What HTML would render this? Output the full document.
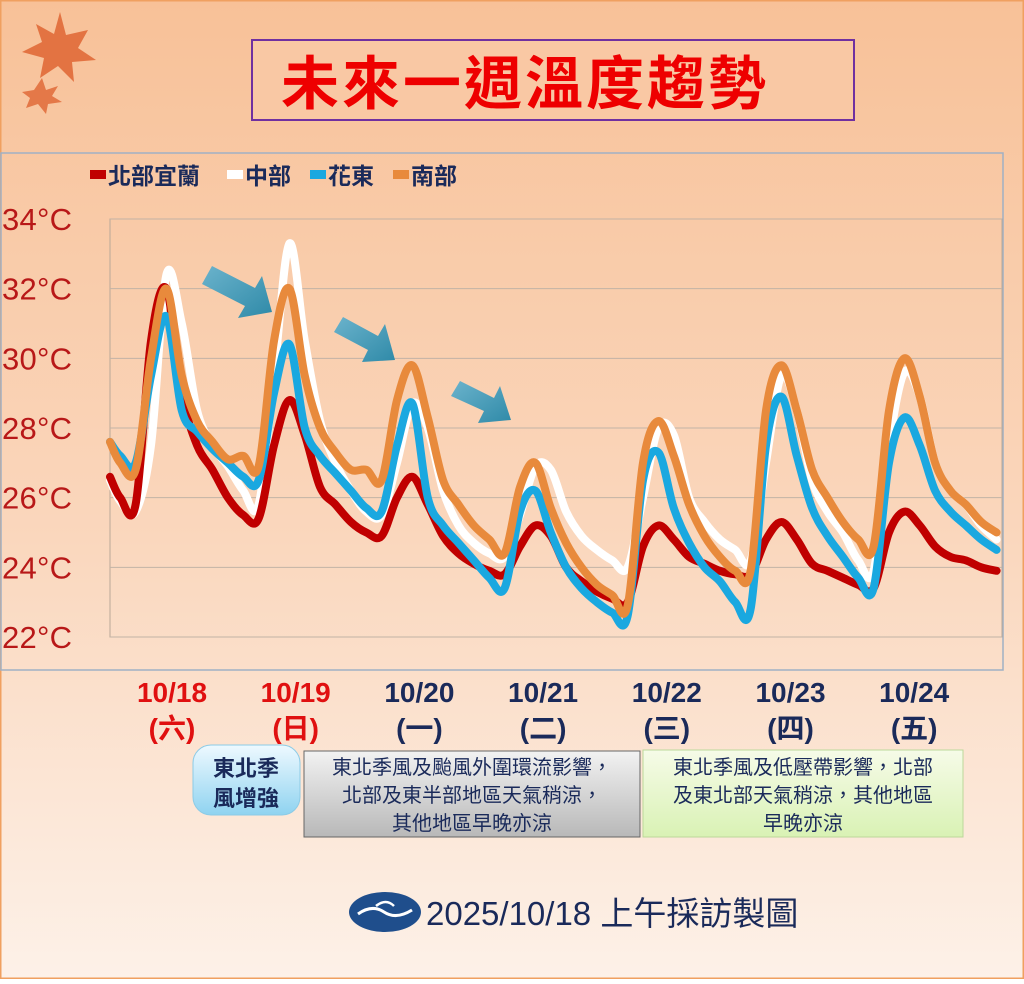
<!DOCTYPE html>
<html><head><meta charset="utf-8"><style>
html,body{margin:0;padding:0}
body{width:1024px;height:979px;overflow:hidden;font-family:"Liberation Sans","Noto Sans CJK TC",sans-serif}
</style></head><body>
<svg id="chart" width="1024" height="979" xmlns="http://www.w3.org/2000/svg" font-family="Liberation Sans, Noto Sans CJK TC, sans-serif">
<defs>
<linearGradient id="bg" x1="0" y1="0" x2="0" y2="1"><stop offset="0" stop-color="#f8c198"/><stop offset="0.55" stop-color="#fad7bd"/><stop offset="1" stop-color="#fdf1e8"/></linearGradient>
<linearGradient id="arr" x1="0" y1="0" x2="1" y2="1"><stop offset="0" stop-color="#6bb3cc"/><stop offset="1" stop-color="#2f8aa8"/></linearGradient>
<linearGradient id="grey" x1="0" y1="0" x2="0" y2="1"><stop offset="0" stop-color="#f2f2f2"/><stop offset="1" stop-color="#b8b8b8"/></linearGradient>
<linearGradient id="green" x1="0" y1="0" x2="0" y2="1"><stop offset="0" stop-color="#f6fbe8"/><stop offset="1" stop-color="#d9f2b4"/></linearGradient>
<linearGradient id="blueb" x1="0" y1="0" x2="0" y2="1"><stop offset="0" stop-color="#eef9ff"/><stop offset="1" stop-color="#8fd3f0"/></linearGradient>
</defs>
<rect x="0" y="0" width="1024" height="979" fill="url(#bg)" stroke="#f0a060" stroke-width="3"/>
<g>
<path d="M60 12 L66 35 L88 30 L78 48 L96 60 L72 62 L74 82 L58 66 L40 78 L44 58 L22 52 L42 42 L36 24 L54 34 Z" fill="#e06a38" opacity="0.9"/>
<path d="M42 78 L46 90 L58 86 L52 96 L62 102 L48 104 L46 114 L38 104 L26 108 L30 98 L22 92 L34 90 Z" fill="#e06a38" opacity="0.85"/>
</g>
<rect x="252" y="40" width="602" height="80" fill="#f9c8a4" stroke="#7030a0" stroke-width="2"/>
<text x="525" y="104" text-anchor="middle" font-size="58" fill="#ee0000" font-weight="bold" letter-spacing="3">未來一週溫度趨勢</text>
<rect x="1" y="153" width="1002" height="517" fill="none" stroke="#9fb0c4" stroke-width="1.5"/>
<rect x="110" y="219" width="892" height="418" fill="none" stroke="#b9a898" stroke-width="1"/>
<g id="grid"></g>
<g id="ylabels"></g>
<g id="legend"></g>
<g id="lines"></g>
<g>
<path d="M212 266 L255 288 L262 276 L272 312 L238 318 L245 306 L202 284 Z" fill="url(#arr)"/>
<path d="M343 317 L378 336 L385 324 L395 360 L362 362 L368 350 L334 332 Z" fill="url(#arr)"/>
<path d="M460 381 L494 398 L500 386 L511 420 L478 423 L484 411 L451 396 Z" fill="url(#arr)"/>
</g>
<g id="xlabels"></g>
<rect x="193" y="745" width="107" height="70" rx="18" fill="url(#blueb)" stroke="#8ccbe6"/>
<text x="246" y="776" text-anchor="middle" font-size="22" fill="#1a2a5a" font-weight="bold">東北季</text>
<text x="246" y="806" text-anchor="middle" font-size="22" fill="#1a2a5a" font-weight="bold">風增強</text>
<rect x="304" y="751" width="336" height="86" fill="url(#grey)" stroke="#666"/>
<g font-size="20" fill="#1a2a5a" text-anchor="middle">
<text x="472" y="774">東北季風及颱風外圍環流影響，</text>
<text x="472" y="802">北部及東半部地區天氣稍涼，</text>
<text x="472" y="830">其他地區早晚亦涼</text>
</g>
<rect x="643" y="750" width="320" height="87" fill="url(#green)" stroke="#bcd89a"/>
<g font-size="20" fill="#1a2a5a" text-anchor="middle">
<text x="803" y="774">東北季風及低壓帶影響，北部</text>
<text x="803" y="802">及東北部天氣稍涼，其他地區</text>
<text x="803" y="830">早晚亦涼</text>
</g>
<g>
<ellipse cx="385" cy="912" rx="36" ry="20" fill="#1f4e8c"/>
<path d="M358 914 Q372 904 384 912 Q396 920 412 910" stroke="#fff" stroke-width="3" fill="none"/>
<path d="M376 906 Q386 898 394 906" stroke="#fff" stroke-width="2.5" fill="none"/>
</g>
<text x="426" y="925" font-size="33" fill="#1a2a5a">2025/10/18 上午採訪製圖</text>
</svg>
<script>
const tempTicks = [22, 24, 26, 28, 30, 32, 34];
const tickLabels = ["22°C","24°C","26°C","28°C","30°C","32°C","34°C"];
const dateLabels = ["10/18","10/19","10/20","10/21","10/22","10/23","10/24"];
const weekdayLabels = ["(六)","(日)","(一)","(二)","(三)","(四)","(五)"];
const seriesNames = ["北部宜蘭","中部","花東","南部"];
const hours = [0,2,5,8,11,14,17,20,23,26,29,32,35,38,41,44,47,50,53,56,59,62,65,68,71,74,77,80,83,86,89,92,95,98,101,104,107,110,113,116,119,122,125,128,131,134,137,140,143,146,149,152,155,158,161,164,167,170,173];
const north = [26.6,26.0,25.8,30.5,32.0,29.0,27.5,26.8,26.0,25.5,25.4,27.5,28.8,27.8,26.3,25.8,25.3,25.0,24.9,26.0,26.6,25.8,24.9,24.4,24.1,23.9,23.8,24.6,25.2,24.9,24.0,23.6,23.3,23.1,23.0,24.6,25.2,24.8,24.3,24.1,23.9,23.8,23.8,24.8,25.3,24.8,24.1,23.9,23.7,23.5,23.4,25.0,25.6,25.2,24.6,24.3,24.2,24.0,23.9];
const central = [26.5,25.9,25.6,27.5,32.4,31.0,28.5,27.5,26.9,26.2,25.8,29.5,33.3,30.5,28.2,27.0,26.2,25.6,25.5,27.0,28.7,28.0,26.2,25.2,24.7,24.4,24.3,25.5,26.9,26.8,25.6,24.9,24.5,24.2,24.0,26.0,28.0,27.8,26.0,25.3,24.8,24.5,24.2,27.0,29.5,28.5,26.5,25.6,25.0,24.2,23.9,27.5,29.6,28.9,27.0,26.2,25.8,25.2,24.8];
const east = [27.6,27.2,27.0,29.5,31.2,28.5,27.9,27.4,27.0,26.6,26.5,29.0,30.4,28.0,27.2,26.7,26.2,25.7,25.6,27.5,28.7,26.0,25.2,24.7,24.2,23.7,23.4,25.6,26.2,25.0,24.0,23.4,23.0,22.7,22.6,26.5,27.3,25.7,24.7,24.0,23.6,23.0,22.8,27.5,28.9,27.2,25.7,24.9,24.3,23.7,23.4,27.0,28.3,27.5,26.2,25.6,25.2,24.8,24.5];
const south = [27.6,27.0,26.8,30.0,32.0,29.5,28.2,27.6,27.1,27.2,26.9,30.5,32.0,29.5,28.0,27.3,26.8,26.8,26.5,28.8,29.8,28.3,26.5,25.8,25.2,24.8,24.4,26.3,27.0,25.7,24.7,24.0,23.5,23.2,22.9,27.0,28.2,27.2,25.8,24.9,24.3,23.9,23.9,28.5,29.8,28.5,26.8,26.0,25.3,24.8,24.6,28.5,30.0,28.9,27.0,26.2,25.8,25.3,25.0];

const NS = "http://www.w3.org/2000/svg";
const yScale = t => 637 - (t - 22) * (418 / 12);
const xScale = h => 110 + h * 5.125;
const dayX = d => 172 + d * 123.7;
function mk(tag, attrs, parent){const e=document.createElementNS(NS,tag);for(const k in attrs)e.setAttribute(k,attrs[k]);parent.appendChild(e);return e;}
function smooth(pts){
  let d='M'+pts[0][0].toFixed(1)+' '+pts[0][1].toFixed(1);
  for(let i=0;i<pts.length-1;i++){
    const p0=pts[i-1]||pts[i],p1=pts[i],p2=pts[i+1],p3=pts[i+2]||p2,k=6;
    d+=' C'+(p1[0]+(p2[0]-p0[0])/k).toFixed(1)+' '+(p1[1]+(p2[1]-p0[1])/k).toFixed(1)+' '+(p2[0]-(p3[0]-p1[0])/k).toFixed(1)+' '+(p2[1]-(p3[1]-p1[1])/k).toFixed(1)+' '+p2[0].toFixed(1)+' '+p2[1].toFixed(1);
  }
  return d;
}

const grid=document.getElementById('grid'), yl=document.getElementById('ylabels');
tempTicks.forEach((t,i)=>{
  const l=mk('line',{x1:110,x2:1002,y1:yScale(t),y2:yScale(t),stroke:'#c2b3a6','stroke-width':1},grid);
  
  
  const tx=mk('text',{x:2,y:yScale(t)+11,'font-size':31,fill:'#b81818',textLength:70},yl);
  tx.textContent=tickLabels[i];
  
  
});

const colors=['#c00000','#ffffff','#1aa8e0','#e88a3c'];
const data=[north,central,east,south];
const order=[1,0,2,3];
const lines=document.getElementById('lines');
order.forEach(s=>{
  const pts=data[s].map((v,i)=>[xScale(hours[i]),yScale(v)]);
  const p=mk('path',{d:smooth(pts),fill:'none',stroke:colors[s],'stroke-width':8,'stroke-linejoin':'round','stroke-linecap':'round'},lines);
  
  
});

const lg=document.getElementById('legend');
const lgX=[90,227,310,393];
seriesNames.forEach((n,i)=>{
  const r=mk('rect',{x:lgX[i],y:170,width:16,height:9,fill:colors[i]},lg);
  
  
  const t=mk('text',{x:lgX[i]+18,y:184,'font-size':23,'font-weight':'bold',fill:'#1a2a5a'},lg);
  t.textContent=n;
  
  
});

const xl=document.getElementById('xlabels');
dateLabels.forEach((dl,i)=>{
  const c=i<2?'#e01010':'#1a2a5a';
  const t=mk('text',{x:dayX(i),y:702,'font-size':28,'font-weight':'bold',fill:c,'text-anchor':'middle'},xl);
  t.textContent=dl;
  
  
  const w=mk('text',{x:dayX(i),y:738,'font-size':28,'font-weight':'bold',fill:c,'text-anchor':'middle'},xl);
  w.textContent=weekdayLabels[i];
  
  
});
</script>
</body></html>
